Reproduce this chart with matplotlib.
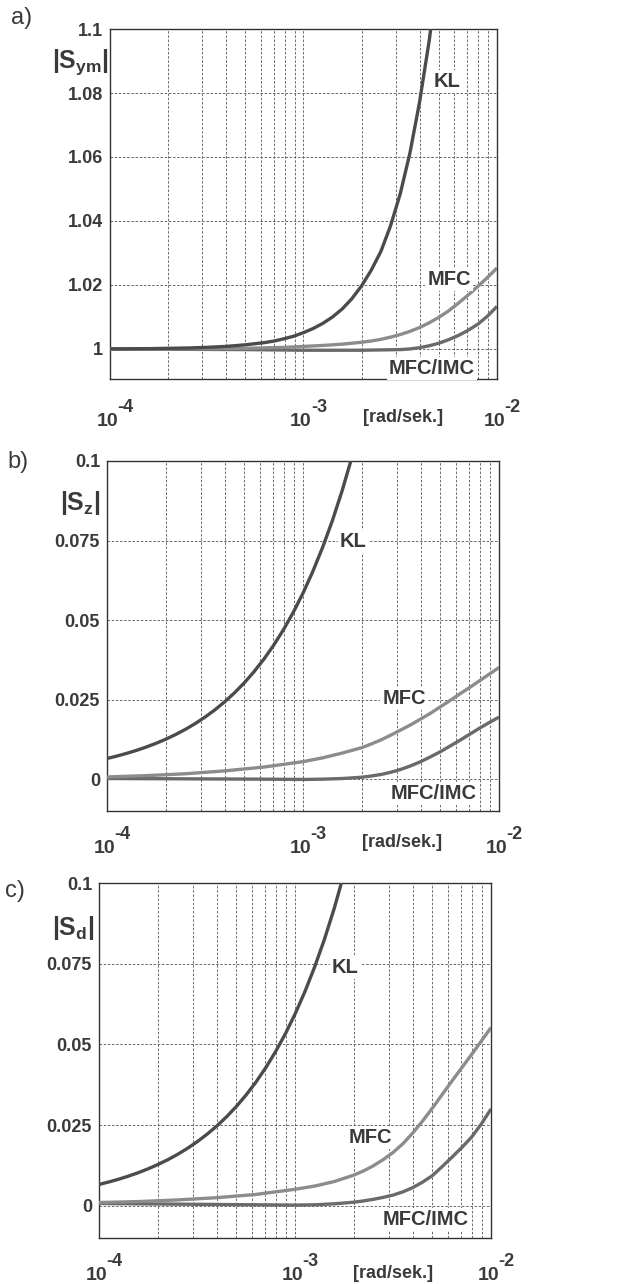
import matplotlib
matplotlib.use("Agg")
import matplotlib.pyplot as plt
from matplotlib.ticker import LogLocator, NullFormatter, FixedLocator

plt.rcParams["font.family"] = ["Liberation Sans", "DejaVu Sans"]
plt.rcParams["mathtext.fontset"] = "custom"
plt.rcParams["mathtext.rm"] = "Liberation Sans"
plt.rcParams["mathtext.bf"] = "Liberation Sans:bold"
plt.rcParams["mathtext.it"] = "Liberation Sans:italic"

TEXT = "#3a3a3a"

# ---- data: frequency [rad/s] and |S| ----
# panel a) |S_ym|
a_kl_w = [1e-4, 1.585e-4, 2.512e-4, 3.162e-4, 3.981e-4, 5.012e-4, 6.31e-4, 7.079e-4, 7.943e-4,
          8.913e-4, 1e-3, 1.122e-3, 1.259e-3, 1.413e-3, 1.585e-3, 1.778e-3, 1.995e-3, 2.239e-3,
          2.512e-3, 2.818e-3, 3.162e-3, 3.548e-3, 3.981e-3, 4.467e-3, 4.6e-3]
a_kl = [1.0000, 1.0001, 1.0003, 1.0005, 1.0008, 1.0013, 1.0020, 1.0025, 1.0032,
        1.0040, 1.0051, 1.0064, 1.0080, 1.0100, 1.0125, 1.0157, 1.0197, 1.0246,
        1.0305, 1.0385, 1.0485, 1.0612, 1.0772, 1.0965, 1.1025]
a_mfc_w = [1e-4, 3.162e-4, 5.012e-4, 7.943e-4, 1e-3, 1.259e-3, 1.585e-3, 1.995e-3, 2.239e-3,
           2.512e-3, 2.818e-3, 3.162e-3, 3.548e-3, 3.981e-3, 4.467e-3, 5.012e-3, 5.623e-3,
           6.31e-3, 7.079e-3, 7.943e-3, 8.913e-3, 1e-2]
a_mfc = [1.0, 1.0001, 1.0002, 1.0005, 1.0008, 1.0011, 1.0015, 1.0021, 1.0025,
         1.0030, 1.0037, 1.0045, 1.0055, 1.0067, 1.0082, 1.0099, 1.0119,
         1.0143, 1.0168, 1.0195, 1.0223, 1.0253]
a_imc_w = [1e-4, 5e-4, 1e-3, 2e-3, 3.162e-3, 3.548e-3, 3.981e-3, 4.467e-3, 5.012e-3, 5.623e-3,
           6.31e-3, 7.079e-3, 7.943e-3, 8.913e-3, 1e-2]
a_imc = [1.0, 0.9998, 0.9996, 0.9996, 0.9998, 1.0000, 1.0004, 1.0010, 1.0018, 1.0029,
         1.0042, 1.0058, 1.0077, 1.0102, 1.0133]

# panel b) |S_z|
b_kl_w = [1e-4, 1.122e-4, 1.259e-4, 1.413e-4, 1.585e-4, 1.778e-4, 1.995e-4, 2.239e-4, 2.512e-4,
          2.818e-4, 3.162e-4, 3.548e-4, 3.981e-4, 4.467e-4, 5.012e-4, 5.623e-4, 6.31e-4,
          7.079e-4, 7.943e-4, 8.913e-4, 1e-3, 1.122e-3, 1.259e-3, 1.413e-3, 1.585e-3, 1.778e-3]
b_kl = [0.0065, 0.00725, 0.0081, 0.00904, 0.01009, 0.01126, 0.01256, 0.01402, 0.01565,
        0.01747, 0.0195, 0.02176, 0.02429, 0.02711, 0.03025, 0.03377, 0.03769,
        0.04206, 0.04695, 0.0524, 0.05848, 0.06527, 0.07285, 0.08131, 0.09075, 0.1013]
b_mfc_w = [1e-4, 1.585e-4, 2.512e-4, 3.981e-4, 6.31e-4, 1e-3, 1.259e-3, 1.585e-3, 1.995e-3,
           2.239e-3, 2.512e-3, 2.818e-3, 3.162e-3, 3.548e-3, 3.981e-3, 4.467e-3, 5.012e-3,
           5.623e-3, 6.31e-3, 7.079e-3, 7.943e-3, 8.913e-3, 1e-2]
b_mfc = [0.0007, 0.0011, 0.0017, 0.0026, 0.0038, 0.0055, 0.0067, 0.0082, 0.0099,
         0.0111, 0.0124, 0.0139, 0.0155, 0.0171, 0.0189, 0.0207, 0.0227,
         0.0247, 0.0268, 0.0288, 0.0309, 0.0330, 0.0351]
b_imc_w = [1e-4, 2.512e-4, 6.31e-4, 1e-3, 1.259e-3, 1.585e-3, 1.995e-3, 2.239e-3, 2.512e-3,
           2.818e-3, 3.162e-3, 3.548e-3, 3.981e-3, 4.467e-3, 5.012e-3, 5.623e-3, 6.31e-3,
           7.079e-3, 7.943e-3, 8.913e-3, 1e-2]
b_imc = [0.0002, 0.0001, 0.0, -0.0001, 0.0, 0.0002, 0.0006, 0.0010, 0.0015,
         0.0022, 0.0031, 0.0042, 0.0055, 0.0070, 0.0086, 0.0104, 0.0122,
         0.0141, 0.0160, 0.0178, 0.0195]

# panel c) |S_d|
c_kl_w = b_kl_w
c_kl = [0.0066, 0.00737, 0.00822, 0.00918, 0.01024, 0.01143, 0.01276, 0.01424, 0.01589,
        0.01774, 0.0198, 0.0221, 0.02466, 0.02753, 0.03072, 0.03429, 0.03827,
        0.04271, 0.04767, 0.05321, 0.05939, 0.06628, 0.07398, 0.08257, 0.09215, 0.1029]
c_mfc_w = b_mfc_w
c_mfc = [0.0010, 0.0013, 0.0018, 0.0025, 0.0035, 0.0051, 0.0061, 0.0075, 0.0095,
         0.0108, 0.0124, 0.0143, 0.0165, 0.0192, 0.0225, 0.0262, 0.0302,
         0.0344, 0.0386, 0.0427, 0.0468, 0.0510, 0.0552]
c_imc_w = b_imc_w
c_imc = [0.0007, 0.0005, 0.0003, 0.0002, 0.0003, 0.0006, 0.0011, 0.0015, 0.0020,
         0.0026, 0.0033, 0.0043, 0.0056, 0.0073, 0.0093, 0.0121, 0.0150,
         0.0180, 0.0212, 0.0253, 0.0300]

series_names = ["KL", "MFC", "MFC/IMC"]
colors = {"KL": "#4b4b4b", "MFC": "#8c8c8c", "MFC/IMC": "#6a6a6a"}

a_yticks = [1, 1.02, 1.04, 1.06, 1.08, 1.1]
a_ylabels = ["1", "1.02", "1.04", "1.06", "1.08", "1.1"]
bc_yticks = [0, 0.025, 0.05, 0.075, 0.1]
bc_ylabels = ["0", "0.025", "0.05", "0.075", "0.1"]
xticks = [1e-4, 1e-3, 1e-2]
xexps = ["-4", "-3", "-2"]

panels = [
    dict(rect=[0.1774, 0.7048, 0.6242, 0.2726], tag="a)", tagpos=(0.035, 0.986),
         ylab=r"$\mathbf{|S_{ym}|}$", ylabpos=(-0.075, 0.906),
         ylim=(0.9906, 1.1), yticks=a_yticks, ylabels=a_ylabels,
         data=[(a_imc_w, a_imc), (a_mfc_w, a_mfc), (a_kl_w, a_kl)],
         lab={"KL": (0.871, 0.849), "MFC": (0.876, 0.283), "MFC/IMC": (0.832, 0.031)},
         unit=(0.757, -0.109), xl_off=34),
    dict(rect=[0.1726, 0.3684, 0.6323, 0.2726], tag="b)", tagpos=(0.029, 0.640),
         ylab=r"$\mathbf{|S_{z}|}$", ylabpos=(-0.069, 0.88),
         ylim=(-0.01, 0.1), yticks=bc_yticks, ylabels=bc_ylabels,
         data=[(b_imc_w, b_imc), (b_mfc_w, b_mfc), (b_kl_w, b_kl)],
         lab={"KL": (0.628, 0.771), "MFC": (0.758, 0.32), "MFC/IMC": (0.832, 0.051)},
         unit=(0.753, -0.091), xl_off=30),
    dict(rect=[0.1597, 0.0358, 0.6323, 0.2765], tag="c)", tagpos=(0.024, 0.306),
         ylab=r"$\mathbf{|S_{d}|}$", ylabpos=(-0.066, 0.873),
         ylim=(-0.01, 0.1), yticks=bc_yticks, ylabels=bc_ylabels,
         data=[(c_imc_w, c_imc), (c_mfc_w, c_mfc), (c_kl_w, c_kl)],
         lab={"KL": (0.628, 0.763), "MFC": (0.691, 0.282), "MFC/IMC": (0.834, 0.051)},
         unit=(0.75, -0.099), xl_off=30),
]

fig = plt.figure(figsize=(6.2, 12.84), dpi=100)

for p in panels:
	ax = fig.add_axes(p["rect"])
	ax.set_xscale("log")
	ax.set_xlim(1e-4, 1e-2)
	ax.set_ylim(*p["ylim"])

	for name, (w, s) in zip(["MFC/IMC", "MFC", "KL"], p["data"]):
		ax.plot(w, s, color=colors[name], lw=2.4, solid_capstyle="butt", zorder=3)

	ax.xaxis.set_major_locator(FixedLocator(xticks))
	ax.xaxis.set_minor_locator(LogLocator(base=10, subs=range(2, 10)))
	ax.xaxis.set_minor_formatter(NullFormatter())
	ax.set_xticklabels([""] * len(xticks))
	ax.set_yticks(p["yticks"])
	ax.set_yticklabels(p["ylabels"], fontsize=13, fontweight="bold", color=TEXT)
	ax.tick_params(axis="both", which="both", length=0)
	ax.tick_params(axis="y", pad=5)

	# MATLAB-style "10" with a large exponent
	for xt, ex in zip(xticks, xexps):
		ax.annotate("10", xy=(xt, 0), xycoords=("data", "axes fraction"),
		            xytext=(-2, -p["xl_off"]), textcoords="offset points",
		            ha="center", va="baseline", fontsize=14, fontweight="bold", color=TEXT)
		ax.annotate(ex, xy=(xt, 0), xycoords=("data", "axes fraction"),
		            xytext=(5.5, -p["xl_off"] + 10), textcoords="offset points",
		            ha="left", va="baseline", fontsize=13, fontweight="bold", color=TEXT)

	ax.grid(True, which="both", axis="x", ls=(0, (3, 2)), lw=0.6, color="#555555")
	ax.grid(True, which="major", axis="y", ls=(0, (3, 2)), lw=0.6, color="#555555")
	for sp in ax.spines.values():
		sp.set_color("#333333")
		sp.set_linewidth(1.0)

	for name in series_names:
		x, y = p["lab"][name]
		ax.text(x, y, name, transform=ax.transAxes, ha="center", va="center",
		        fontsize=14.5, fontweight="bold", color=TEXT, zorder=4,
		        bbox=dict(facecolor="white", edgecolor="none", pad=1.5))

	ax.text(p["unit"][0], p["unit"][1], "[rad/sek.]", transform=ax.transAxes,
	        ha="center", va="center", fontsize=13, fontweight="bold", color=TEXT)
	ax.text(p["ylabpos"][0], p["ylabpos"][1], p["ylab"], transform=ax.transAxes,
	        ha="center", va="center", fontsize=18, color=TEXT)
	fig.text(p["tagpos"][0], p["tagpos"][1], p["tag"], ha="center", va="center",
	         fontsize=17, color=TEXT)

fig.savefig("out.png", dpi=100, facecolor="white")
